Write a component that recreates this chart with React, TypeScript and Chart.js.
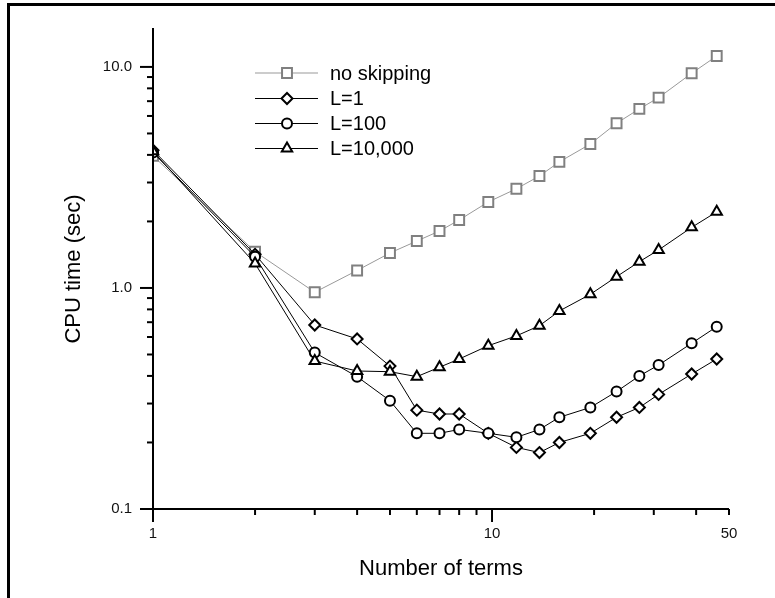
import { useEffect, useRef } from 'react';
import { Chart, registerables } from 'chart.js';
import { drawPoint } from 'chart.js/helpers';

Chart.register(...registerables);

const termsX = [1, 2, 3, 4, 5, 6, 7, 8, 9.75, 11.8, 13.8, 15.8, 19.5, 23.3, 27.2, 31, 38.8, 46];
const noSkipping = [3.96, 1.46, 0.956, 1.2, 1.44, 1.63, 1.81, 2.03, 2.45, 2.81, 3.21, 3.72, 4.48, 5.56, 6.46, 7.26, 9.36, 11.2];
const L1 = [4.2, 1.42, 0.68, 0.588, 0.443, 0.28, 0.269, 0.269, 0.22, 0.19, 0.18, 0.2, 0.22, 0.26, 0.288, 0.33, 0.408, 0.477];
const L100 = [4.1, 1.385, 0.51, 0.397, 0.309, 0.22, 0.22, 0.229, 0.22, 0.211, 0.229, 0.26, 0.288, 0.34, 0.4, 0.448, 0.562, 0.668];
const L10000 = [4.15, 1.29, 0.467, 0.421, 0.418, 0.397, 0.438, 0.477, 0.548, 0.607, 0.675, 0.787, 0.936, 1.125, 1.315, 1.486, 1.88, 2.21];
const seriesLabels = ['no skipping', 'L=1', 'L=100', 'L=10,000'];

const yMajorTicks = [0.1, 1, 10];
const yMajorLabels = ['0.1', '1.0', '10.0'];
const yMinorTicks = [0.2, 0.3, 0.4, 0.5, 0.6, 0.7, 0.8, 0.9, 2, 3, 4, 5, 6, 7, 8, 9];
const xMajorTicks = [1, 10];
const xMinorTicks = [2, 3, 4, 5, 6, 7, 8, 9, 20, 30, 40, 50];
const xLabelValues = [1, 10, 50];
const xLabels = ['1', '10', '50'];
const xTitle = 'Number of terms';
const yTitle = 'CPU time (sec)';

const FONT = '"Liberation Sans", Arial, sans-serif';

const styles = [
  { color: '#999999', border: '#808080', pointStyle: 'rect', radius: 7 },
  { color: '#000000', border: '#000000', pointStyle: 'rectRot', radius: 5.5 },
  { color: '#000000', border: '#000000', pointStyle: 'circle', radius: 5 },
  { color: '#000000', border: '#000000', pointStyle: 'triangle', radius: 6 },
];

const decorPlugin = {
  id: 'decor',
  afterDraw(chart: any) {
    const ctx = chart.ctx;
    const xs = chart.scales.x;
    const ys = chart.scales.y;
    const area = chart.chartArea;
    ctx.save();
    // frame
    ctx.fillStyle = '#000';
    ctx.fillRect(7, 3, 768, 3);
    ctx.fillRect(7, 3, 3, 595);
    // axes lines
    ctx.strokeStyle = '#000';
    ctx.lineWidth = 2;
    ctx.beginPath();
    ctx.moveTo(area.left, area.top);
    ctx.lineTo(area.left, area.bottom);
    ctx.lineTo(area.right, area.bottom);
    ctx.stroke();
    // y ticks
    const tick = (x1: number, y1: number, x2: number, y2: number) => {
      ctx.beginPath();
      ctx.moveTo(x1, y1);
      ctx.lineTo(x2, y2);
      ctx.stroke();
    };
    yMajorTicks.forEach((v) => {
      const py = ys.getPixelForValue(v);
      tick(area.left - 13, py, area.left, py);
    });
    yMinorTicks.forEach((v) => {
      const py = ys.getPixelForValue(v);
      tick(area.left - 6, py, area.left, py);
    });
    xMajorTicks.forEach((v) => {
      const px = xs.getPixelForValue(v);
      tick(px, area.bottom, px, area.bottom + 13);
    });
    xMinorTicks.forEach((v) => {
      const px = xs.getPixelForValue(v);
      tick(px, area.bottom, px, area.bottom + 6);
    });
    // tick labels
    ctx.fillStyle = '#111';
    ctx.font = `15px ${FONT}`;
    ctx.textAlign = 'right';
    ctx.textBaseline = 'middle';
    yMajorTicks.forEach((v, i) => {
      ctx.fillText(yMajorLabels[i], area.left - 21, ys.getPixelForValue(v));
    });
    ctx.textAlign = 'center';
    ctx.textBaseline = 'middle';
    xLabelValues.forEach((v, i) => {
      ctx.fillText(xLabels[i], xs.getPixelForValue(v), area.bottom + 25);
    });
    // titles
    ctx.fillStyle = '#000';
    ctx.font = `22px ${FONT}`;
    ctx.textAlign = 'center';
    ctx.textBaseline = 'alphabetic';
    ctx.fillText(xTitle, (area.left + area.right) / 2, 575);
    ctx.save();
    ctx.translate(80, 269);
    ctx.rotate(-Math.PI / 2);
    ctx.fillText(yTitle, 0, 0);
    ctx.restore();
    // legend
    const rowY = [73, 98.5, 123.5, 148.5];
    ctx.font = `20px ${FONT}`;
    ctx.textAlign = 'left';
    ctx.textBaseline = 'middle';
    seriesLabels.forEach((label, i) => {
      const st = styles[i];
      const y = rowY[i];
      ctx.strokeStyle = st.color;
      ctx.lineWidth = 1;
      tick(255, y, 318, y);
      ctx.fillStyle = '#fff';
      ctx.strokeStyle = st.border;
      ctx.lineWidth = 2;
      drawPoint(ctx, { pointStyle: st.pointStyle, radius: st.radius, rotation: 0, borderWidth: 2 }, 287, y);
      ctx.fillStyle = '#000';
      ctx.fillText(label, 330, y + 1);
    });
    ctx.restore();
  },
};

export default function App() {
  const ref = useRef<HTMLCanvasElement | null>(null);
  useEffect(() => {
    if (!ref.current) return;
    const series = [noSkipping, L1, L100, L10000];
    const chart = new Chart(ref.current, {
      type: 'line',
      data: {
        datasets: series.map((vals, i) => ({
          label: seriesLabels[i],
          data: vals.map((y, j) => ({ x: termsX[j], y })),
          borderColor: styles[i].color,
          borderWidth: 1,
          pointStyle: styles[i].pointStyle as any,
          pointRadius: styles[i].radius,
          pointBorderColor: styles[i].border,
          pointBackgroundColor: '#ffffff',
          pointBorderWidth: 2,
          tension: 0,
          fill: false,
          order: 4 - i,
        })),
      },
      options: {
        responsive: false,
        animation: false,
        devicePixelRatio: 1,
        layout: { padding: { left: 153, right: 46, top: 28, bottom: 89 } },
        plugins: { legend: { display: false }, tooltip: { enabled: false }, title: { display: false } },
        events: [],
        scales: {
          x: { type: 'logarithmic', min: 1, max: 50, display: false },
          y: { type: 'logarithmic', min: 0.1, max: 15, display: false },
        },
      },
      plugins: [decorPlugin],
    });
    return () => chart.destroy();
  }, []);
  return (
    <canvas
      ref={ref}
      width={775}
      height={598}
      style={{ position: 'fixed', left: 0, top: 0, width: 775, height: 598, background: '#fff' }}
    />
  );
}
